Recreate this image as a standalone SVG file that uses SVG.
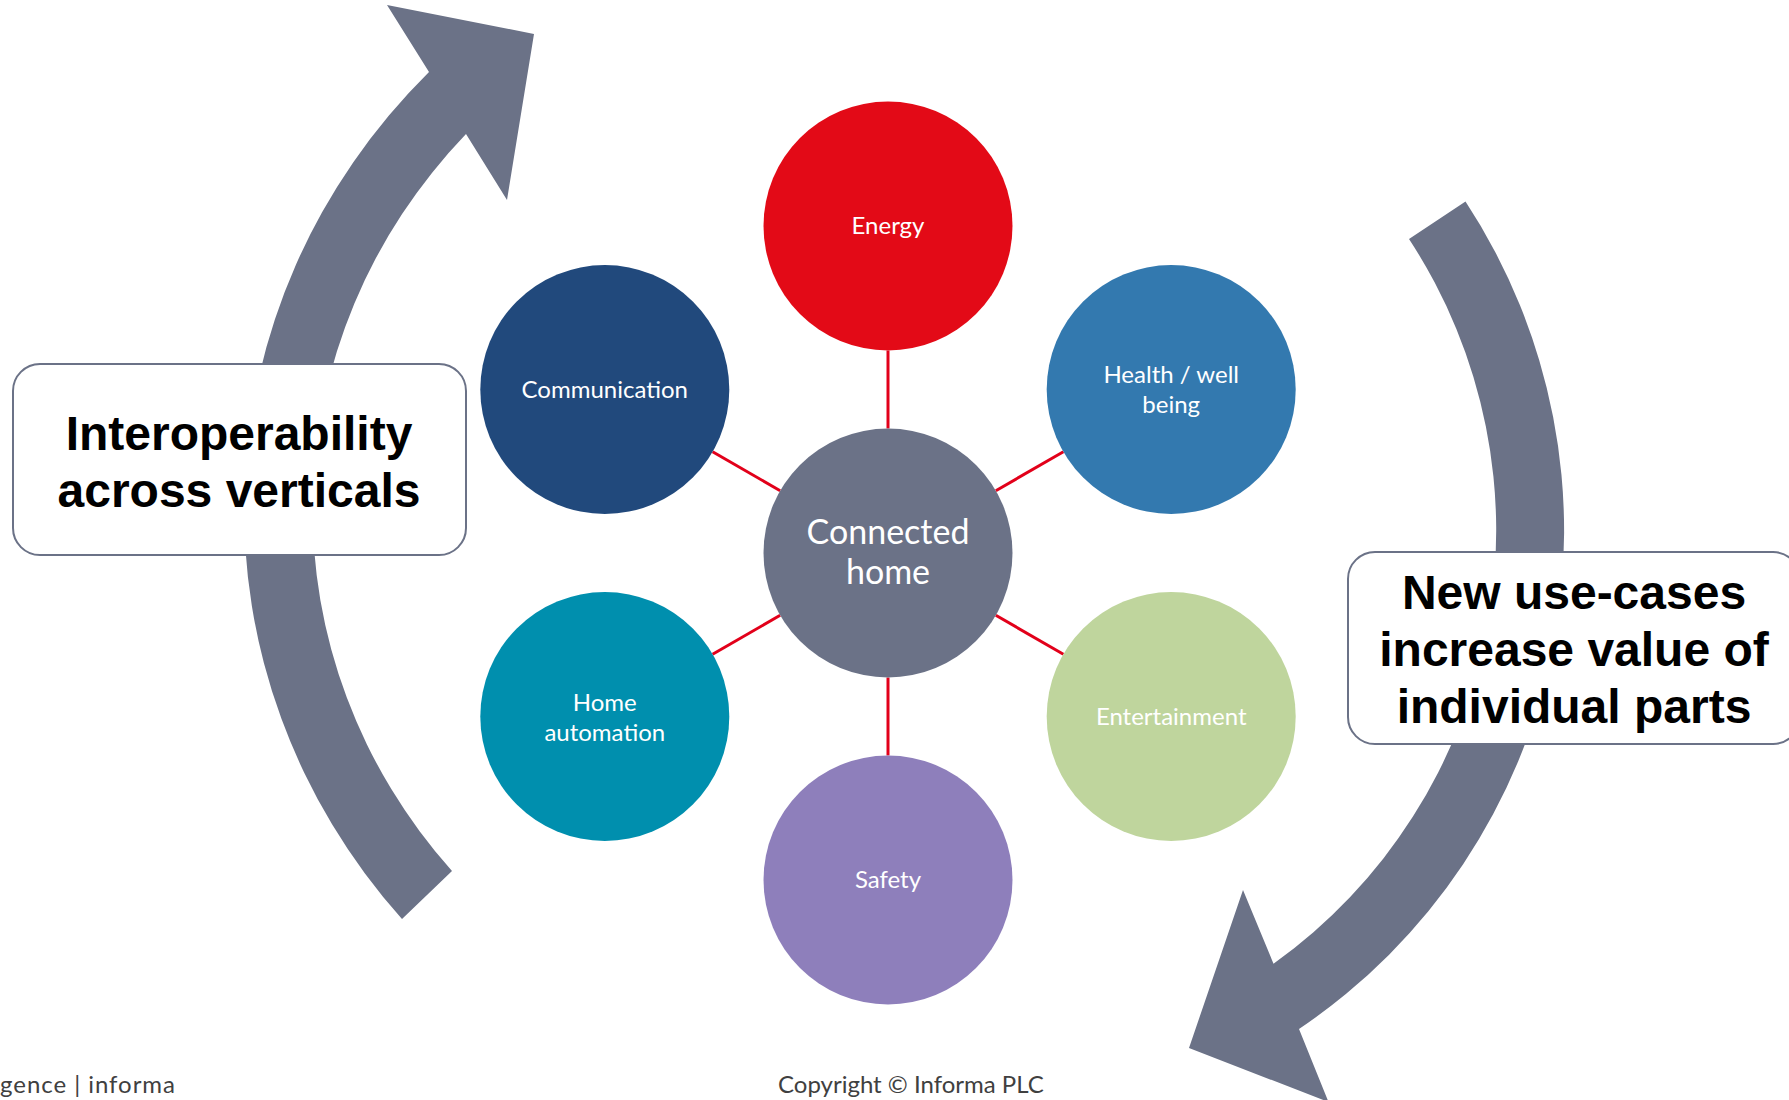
<svg xmlns="http://www.w3.org/2000/svg" width="1789" height="1100" viewBox="0 0 1789 1100">
<style>
.arrow{fill:#6B7287;}
.box{fill:#FFFFFF;stroke:#6B7287;stroke-width:2;}
.boxtxt{font-family:"Liberation Sans",Arial,sans-serif;font-weight:bold;font-size:48px;fill:#000000;text-anchor:middle;}
.lbl{font-family:Lato,"Open Sans",sans-serif;font-size:24px;fill:#FFFFFF;text-anchor:middle;}
.hub{font-family:Lato,"Open Sans",sans-serif;font-size:34px;fill:#FFFFFF;text-anchor:middle;}
.conn{stroke:#E2001A;stroke-width:3;fill:none;}
.foot{font-family:Lato,"Open Sans",sans-serif;font-size:24px;fill:#404040;}
</style>
<rect x="0" y="0" width="1789" height="1100" fill="#FFFFFF"/>
<g id="arrow-left">
<path class="arrow" d="M 452,871 A 587 558 0 0 1 466,134 L 507,200 L 534,34 L 387,5 L 429,72 A 656 629 0 0 0 402,919 Z"/>
</g>
<g id="arrow-right">
<path class="arrow" d="M 1409,239 A 532 532 0 0 1 1273.5,963.7 L 1243,890 L 1189,1048 L 1328.5,1102 L 1299,1029 A 600 600 0 0 0 1465.5,201.6 Z"/>
</g>
<g id="connectors">
<line class="conn" x1="888" y1="350.5" x2="888" y2="428.5"/>
<line class="conn" x1="888" y1="677.5" x2="888" y2="755.5"/>
<line class="conn" x1="712.6" y1="451.8" x2="780.2" y2="490.7"/>
<line class="conn" x1="1063.4" y1="451.8" x2="995.8" y2="490.7"/>
<line class="conn" x1="712.6" y1="654.2" x2="780.2" y2="615.3"/>
<line class="conn" x1="1063.4" y1="654.2" x2="995.8" y2="615.3"/>
</g>
<g id="box-interoperability">
<rect class="box" x="13" y="364" width="453" height="191" rx="27" ry="27"/>
<text class="boxtxt" x="239" y="450">Interoperability</text>
<text class="boxtxt" x="239" y="507">across verticals</text>
</g>
<g id="box-new-use-cases">
<rect class="box" x="1348" y="552" width="452" height="192" rx="27" ry="27"/>
<text class="boxtxt" x="1574" y="609">New use-cases</text>
<text class="boxtxt" x="1574" y="666">increase value of</text>
<text class="boxtxt" x="1574" y="723">individual parts</text>
</g>
<g id="node-energy">
<circle cx="888" cy="226" r="124.5" fill="#E30A17"/>
<text class="lbl" x="888" y="234">Energy</text>
</g>
<g id="node-communication">
<circle cx="604.8" cy="389.5" r="124.5" fill="#21497C"/>
<text class="lbl" x="604.8" y="397.5">Communication</text>
</g>
<g id="node-health">
<circle cx="1171.2" cy="389.5" r="124.5" fill="#3379AF"/>
<text class="lbl" x="1171.2" y="383">Health / well</text>
<text class="lbl" x="1171.2" y="412.5">being</text>
</g>
<g id="node-connected-home">
<circle cx="888" cy="553" r="124.5" fill="#6B7287"/>
<text class="hub" x="888" y="544">Connected</text>
<text class="hub" x="888" y="584">home</text>
</g>
<g id="node-home-automation">
<circle cx="604.8" cy="716.5" r="124.5" fill="#008FAE"/>
<text class="lbl" x="604.8" y="710.5">Home</text>
<text class="lbl" x="604.8" y="740.5">automation</text>
</g>
<g id="node-entertainment">
<circle cx="1171.2" cy="716.5" r="124.5" fill="#BFD59D"/>
<text class="lbl" x="1171.2" y="724.5">Entertainment</text>
</g>
<g id="node-safety">
<circle cx="888" cy="880" r="124.5" fill="#8E7FBB"/>
<text class="lbl" x="888" y="888">Safety</text>
</g>
<g id="footer">
<text class="foot" x="0" y="1093" textLength="175" lengthAdjust="spacing">gence | informa</text>
<text class="foot" x="778" y="1093">Copyright © Informa PLC</text>
</g>
</svg>
